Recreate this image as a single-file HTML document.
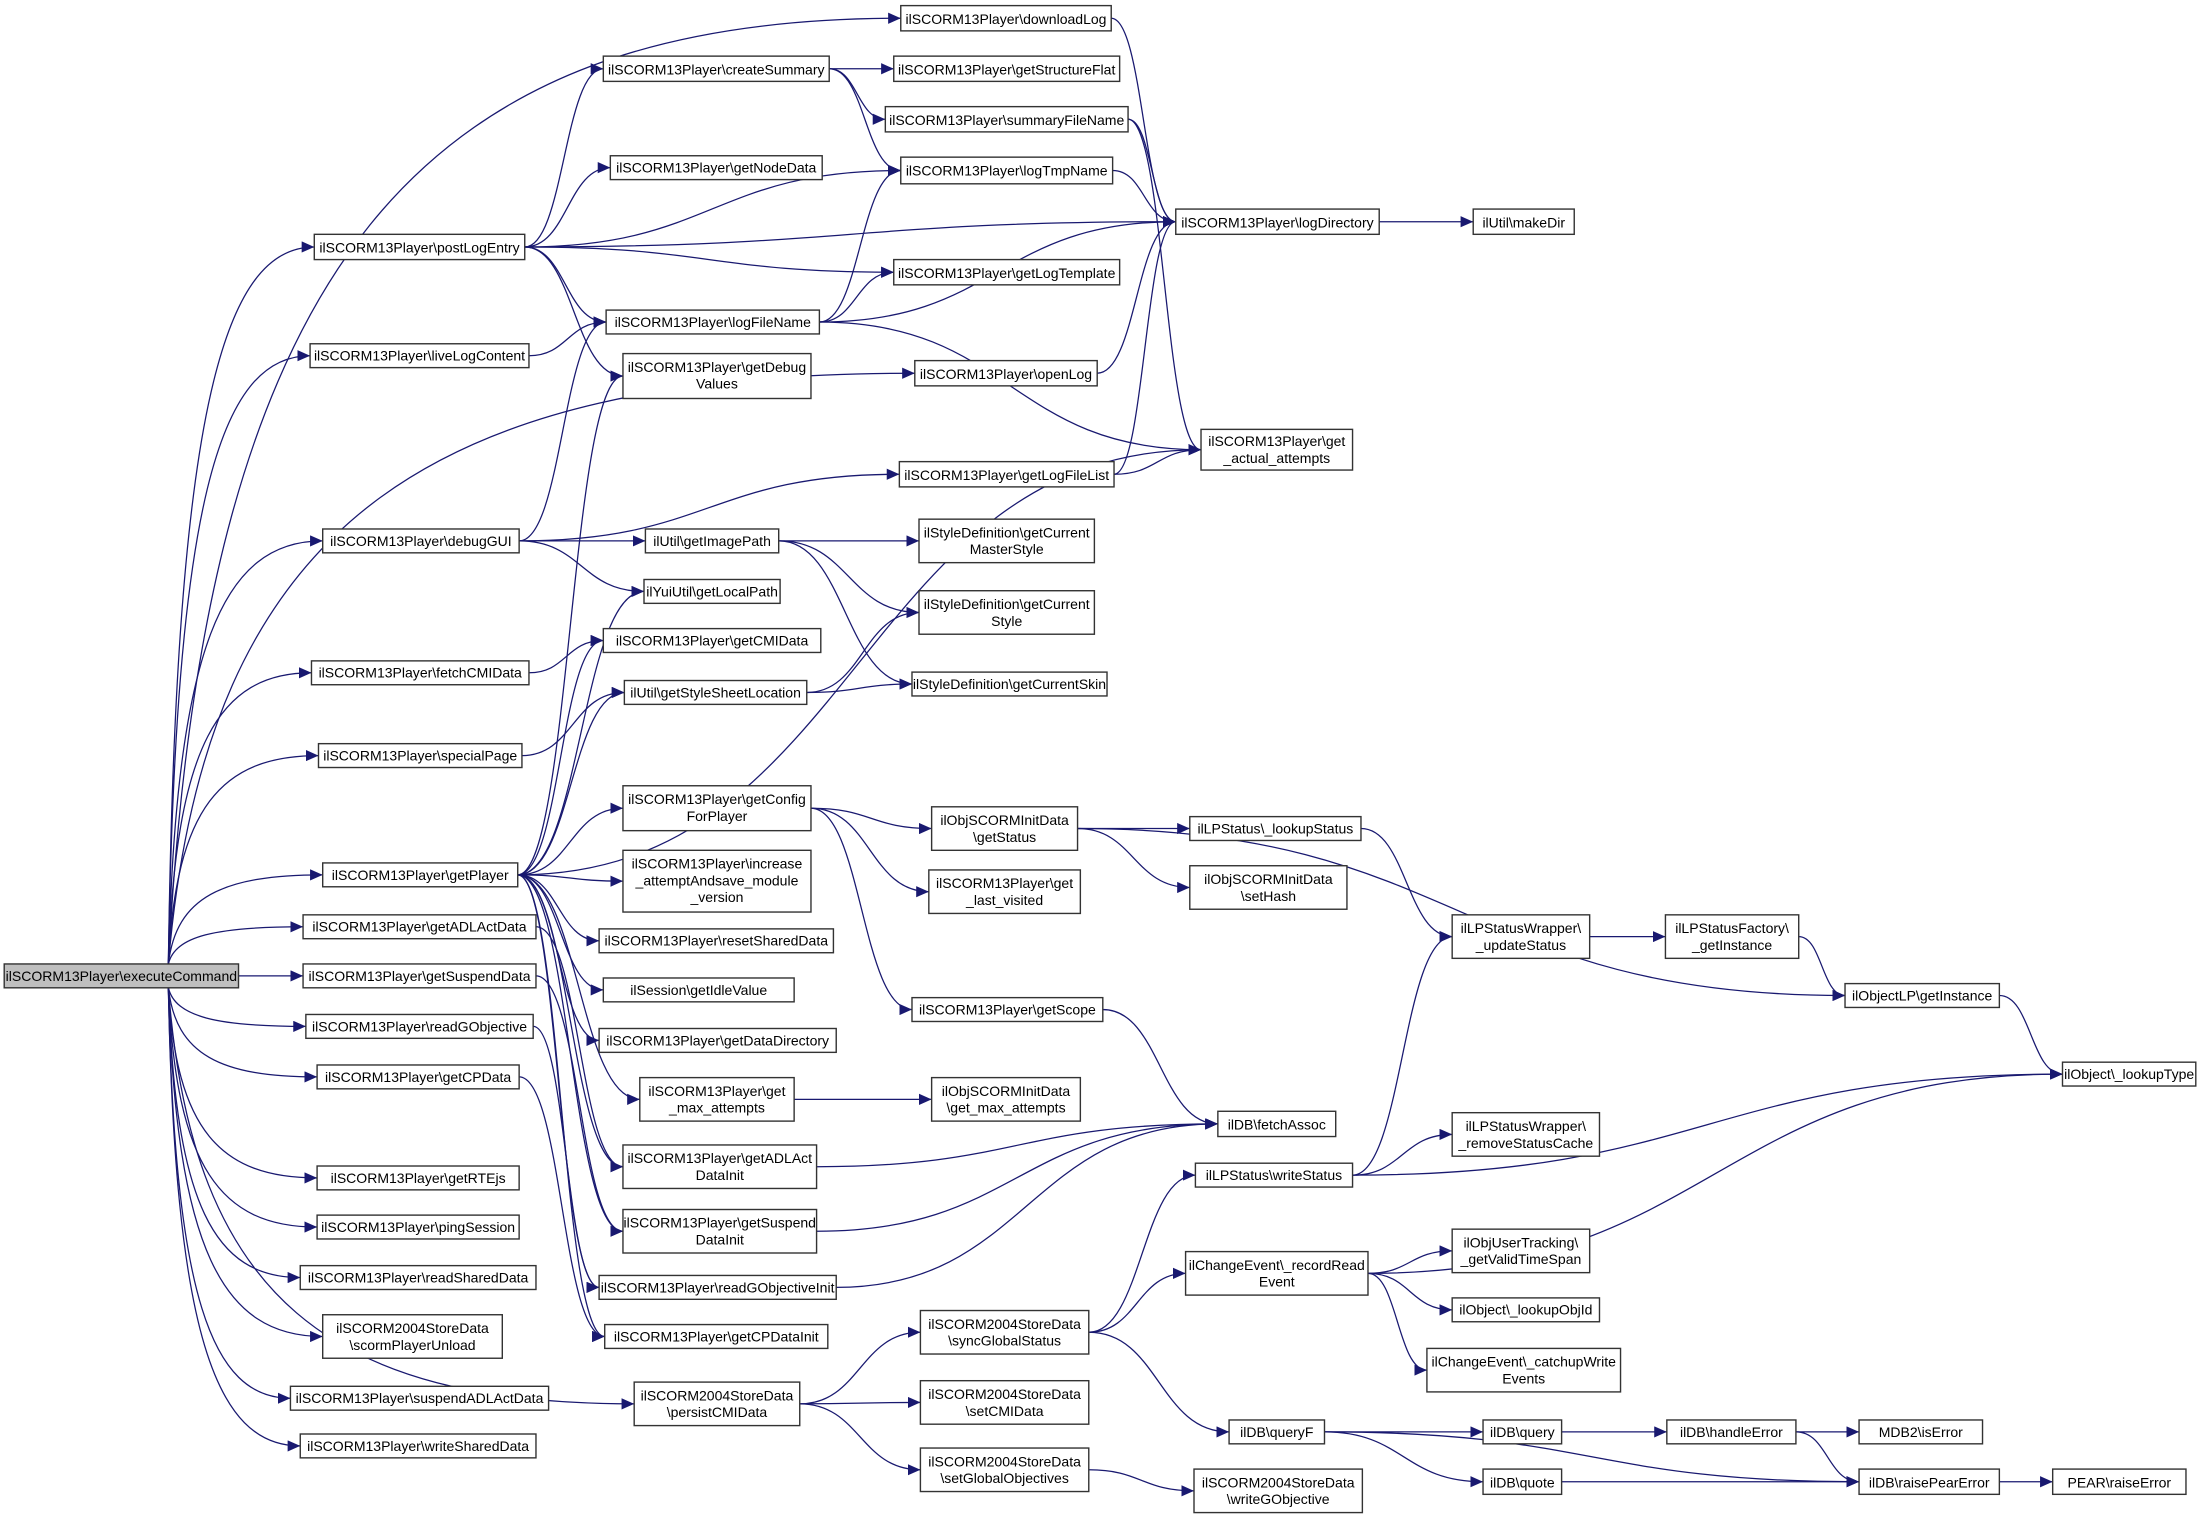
<!DOCTYPE html>
<html><head><meta charset="utf-8"><style>
html,body{margin:0;padding:0;background:#fff;}
svg{display:block;}
text{font-family:"Liberation Sans",Arial,sans-serif;font-size:10px;fill:#000;text-anchor:middle;}
rect{fill:#fff;stroke:#333;stroke-width:1;}
path.e{fill:none;stroke:#191970;stroke-width:0.9;}
</style></head><body>
<svg id="s" width="2200" height="1521" viewBox="0 0 1568 1084" preserveAspectRatio="none" xmlns="http://www.w3.org/2000/svg">
<defs><marker id="a" markerUnits="userSpaceOnUse" markerWidth="10" markerHeight="8" refX="9" refY="4" orient="auto"><path d="M0,0 L9,4 L0,8z" fill="#191970"/></marker></defs>
<g id="edges"></g>
<g id="root"><rect x="3" y="687" width="167" height="17" style="fill:#bfbfbf"/><text x="86.5" y="699">ilSCORM13Player\executeCommand</text></g>
<g id="postLogEntry"><rect x="224" y="167" width="150" height="18"/><text x="299" y="180">ilSCORM13Player\postLogEntry</text></g>
<g id="liveLogContent"><rect x="221" y="245" width="156" height="17"/><text x="299" y="257">ilSCORM13Player\liveLogContent</text></g>
<g id="debugGUI"><rect x="230" y="377" width="140" height="17"/><text x="300" y="389">ilSCORM13Player\debugGUI</text></g>
<g id="fetchCMIData"><rect x="222" y="471" width="155" height="17"/><text x="299.5" y="483">ilSCORM13Player\fetchCMIData</text></g>
<g id="specialPage"><rect x="227" y="530" width="145" height="17"/><text x="299.5" y="542">ilSCORM13Player\specialPage</text></g>
<g id="getPlayer"><rect x="230" y="615" width="139" height="17"/><text x="299.5" y="627">ilSCORM13Player\getPlayer</text></g>
<g id="getADLActData"><rect x="216" y="652" width="166" height="17"/><text x="299" y="664">ilSCORM13Player\getADLActData</text></g>
<g id="getSuspendData"><rect x="216" y="687" width="166" height="17"/><text x="299" y="699">ilSCORM13Player\getSuspendData</text></g>
<g id="readGObjective"><rect x="218" y="723" width="162" height="17"/><text x="299" y="735">ilSCORM13Player\readGObjective</text></g>
<g id="getCPData"><rect x="226" y="759" width="144" height="17"/><text x="298" y="771">ilSCORM13Player\getCPData</text></g>
<g id="getRTEjs"><rect x="226" y="831" width="144" height="17"/><text x="298" y="843">ilSCORM13Player\getRTEjs</text></g>
<g id="pingSession"><rect x="226" y="866" width="144" height="17"/><text x="298" y="878">ilSCORM13Player\pingSession</text></g>
<g id="readSharedData"><rect x="214" y="902" width="168" height="17"/><text x="298" y="914">ilSCORM13Player\readSharedData</text></g>
<g id="scormPlayerUnload"><rect x="230" y="937" width="128" height="31"/><text x="294" y="950">ilSCORM2004StoreData</text><text x="294" y="962">\scormPlayerUnload</text></g>
<g id="suspendADLActData"><rect x="207" y="988" width="184" height="17"/><text x="299" y="1000">ilSCORM13Player\suspendADLActData</text></g>
<g id="writeSharedData"><rect x="214" y="1022" width="168" height="17"/><text x="298" y="1034">ilSCORM13Player\writeSharedData</text></g>
<g id="createSummary"><rect x="430" y="40" width="161" height="18"/><text x="510.5" y="53">ilSCORM13Player\createSummary</text></g>
<g id="getNodeData"><rect x="435" y="111" width="151" height="17"/><text x="510.5" y="123">ilSCORM13Player\getNodeData</text></g>
<g id="logFileName"><rect x="432" y="221" width="152" height="17"/><text x="508" y="233">ilSCORM13Player\logFileName</text></g>
<g id="getDebugValues"><rect x="444" y="252" width="134" height="32"/><text x="511" y="265">ilSCORM13Player\getDebug</text><text x="511" y="277">Values</text></g>
<g id="getImagePath"><rect x="460" y="377" width="95" height="17"/><text x="507.5" y="389">ilUtil\getImagePath</text></g>
<g id="getLocalPath"><rect x="459" y="413" width="97" height="17"/><text x="507.5" y="425">ilYuiUtil\getLocalPath</text></g>
<g id="getCMIData"><rect x="430" y="448" width="155" height="17"/><text x="507.5" y="460">ilSCORM13Player\getCMIData</text></g>
<g id="getStyleSheetLocation"><rect x="445" y="485" width="130" height="17"/><text x="510" y="497">ilUtil\getStyleSheetLocation</text></g>
<g id="getConfigForPlayer"><rect x="444" y="560" width="134" height="32"/><text x="511" y="573">ilSCORM13Player\getConfig</text><text x="511" y="585">ForPlayer</text></g>
<g id="increase"><rect x="444" y="606" width="134" height="44"/><text x="511" y="619">ilSCORM13Player\increase</text><text x="511" y="631">_attemptAndsave_module</text><text x="511" y="643">_version</text></g>
<g id="resetSharedData"><rect x="427" y="662" width="167" height="17"/><text x="510.5" y="674">ilSCORM13Player\resetSharedData</text></g>
<g id="getIdleValue"><rect x="430" y="697" width="136" height="17"/><text x="498" y="709">ilSession\getIdleValue</text></g>
<g id="getDataDirectory"><rect x="427" y="733" width="169" height="17"/><text x="511.5" y="745">ilSCORM13Player\getDataDirectory</text></g>
<g id="getMaxAttempts"><rect x="456" y="768" width="110" height="31"/><text x="511" y="781">ilSCORM13Player\get</text><text x="511" y="793">_max_attempts</text></g>
<g id="getADLActDataInit"><rect x="444" y="816" width="138" height="31"/><text x="513" y="829">ilSCORM13Player\getADLAct</text><text x="513" y="841">DataInit</text></g>
<g id="getSuspendDataInit"><rect x="444" y="862" width="138" height="31"/><text x="513" y="875">ilSCORM13Player\getSuspend</text><text x="513" y="887">DataInit</text></g>
<g id="readGObjectiveInit"><rect x="427" y="909" width="169" height="17"/><text x="511.5" y="921">ilSCORM13Player\readGObjectiveInit</text></g>
<g id="getCPDataInit"><rect x="431" y="944" width="159" height="17"/><text x="510.5" y="956">ilSCORM13Player\getCPDataInit</text></g>
<g id="persistCMIData"><rect x="452" y="985" width="118" height="31"/><text x="511" y="998">ilSCORM2004StoreData</text><text x="511" y="1010">\persistCMIData</text></g>
<g id="downloadLog"><rect x="642" y="4" width="150" height="18"/><text x="717" y="17">ilSCORM13Player\downloadLog</text></g>
<g id="getStructureFlat"><rect x="637" y="40" width="161" height="18"/><text x="717.5" y="53">ilSCORM13Player\getStructureFlat</text></g>
<g id="summaryFileName"><rect x="631" y="76" width="173" height="18"/><text x="717.5" y="89">ilSCORM13Player\summaryFileName</text></g>
<g id="logTmpName"><rect x="642" y="112" width="151" height="19"/><text x="717.5" y="125">ilSCORM13Player\logTmpName</text></g>
<g id="logDirectory"><rect x="838" y="149" width="145" height="18"/><text x="910.5" y="162">ilSCORM13Player\logDirectory</text></g>
<g id="getLogTemplate"><rect x="637" y="185" width="161" height="18"/><text x="717.5" y="198">ilSCORM13Player\getLogTemplate</text></g>
<g id="openLog"><rect x="652" y="257" width="130" height="18"/><text x="717" y="270">ilSCORM13Player\openLog</text></g>
<g id="getActualAttempts"><rect x="856" y="306" width="108" height="29"/><text x="910" y="318">ilSCORM13Player\get</text><text x="910" y="330">_actual_attempts</text></g>
<g id="getLogFileList"><rect x="641" y="329" width="153" height="18"/><text x="717.5" y="342">ilSCORM13Player\getLogFileList</text></g>
<g id="makeDir"><rect x="1050" y="149" width="72" height="18"/><text x="1086" y="162">ilUtil\makeDir</text></g>
<g id="getCurrentMasterStyle"><rect x="655" y="370" width="125" height="31"/><text x="717.5" y="383">ilStyleDefinition\getCurrent</text><text x="717.5" y="395">MasterStyle</text></g>
<g id="getCurrentStyle"><rect x="655" y="421" width="125" height="31"/><text x="717.5" y="434">ilStyleDefinition\getCurrent</text><text x="717.5" y="446">Style</text></g>
<g id="getCurrentSkin"><rect x="650" y="479" width="139" height="17"/><text x="719.5" y="491">ilStyleDefinition\getCurrentSkin</text></g>
<g id="getStatus"><rect x="664" y="575" width="104" height="31"/><text x="716" y="588">ilObjSCORMInitData</text><text x="716" y="600">\getStatus</text></g>
<g id="getLastVisited"><rect x="662" y="620" width="108" height="31"/><text x="716" y="633">ilSCORM13Player\get</text><text x="716" y="645">_last_visited</text></g>
<g id="getScope"><rect x="650" y="711" width="136" height="17"/><text x="718" y="723">ilSCORM13Player\getScope</text></g>
<g id="getMaxAttemptsInit"><rect x="664" y="768" width="106" height="31"/><text x="717" y="781">ilObjSCORMInitData</text><text x="717" y="793">\get_max_attempts</text></g>
<g id="syncGlobalStatus"><rect x="656" y="934" width="120" height="31"/><text x="716" y="947">ilSCORM2004StoreData</text><text x="716" y="959">\syncGlobalStatus</text></g>
<g id="setCMIData"><rect x="656" y="984" width="120" height="31"/><text x="716" y="997">ilSCORM2004StoreData</text><text x="716" y="1009">\setCMIData</text></g>
<g id="setGlobalObjectives"><rect x="656" y="1032" width="120" height="31"/><text x="716" y="1045">ilSCORM2004StoreData</text><text x="716" y="1057">\setGlobalObjectives</text></g>
<g id="lookupStatus"><rect x="848" y="582" width="122" height="17"/><text x="909" y="594">ilLPStatus\_lookupStatus</text></g>
<g id="setHash"><rect x="848" y="617" width="112" height="31"/><text x="904" y="630">ilObjSCORMInitData</text><text x="904" y="642">\setHash</text></g>
<g id="fetchAssoc"><rect x="868" y="792" width="84" height="18"/><text x="910" y="805">ilDB\fetchAssoc</text></g>
<g id="writeStatus"><rect x="852" y="829" width="112" height="17"/><text x="908" y="841">ilLPStatus\writeStatus</text></g>
<g id="recordReadEvent"><rect x="845" y="892" width="130" height="31"/><text x="910" y="905">ilChangeEvent\_recordRead</text><text x="910" y="917">Event</text></g>
<g id="queryF"><rect x="876" y="1012" width="68" height="17"/><text x="910" y="1024">ilDB\queryF</text></g>
<g id="writeGObjective"><rect x="851" y="1047" width="120" height="31"/><text x="911" y="1060">ilSCORM2004StoreData</text><text x="911" y="1072">\writeGObjective</text></g>
<g id="updateStatus"><rect x="1035" y="652" width="98" height="31"/><text x="1084" y="665">ilLPStatusWrapper\</text><text x="1084" y="677">_updateStatus</text></g>
<g id="removeStatusCache"><rect x="1035" y="793" width="105" height="31"/><text x="1087.5" y="806">ilLPStatusWrapper\</text><text x="1087.5" y="818">_removeStatusCache</text></g>
<g id="getValidTimeSpan"><rect x="1035" y="876" width="98" height="31"/><text x="1084" y="889">ilObjUserTracking\</text><text x="1084" y="901">_getValidTimeSpan</text></g>
<g id="lookupObjId"><rect x="1035" y="925" width="105" height="17"/><text x="1087.5" y="937">ilObject\_lookupObjId</text></g>
<g id="catchupWriteEvents"><rect x="1017" y="961" width="138" height="31"/><text x="1086" y="974">ilChangeEvent\_catchupWrite</text><text x="1086" y="986">Events</text></g>
<g id="query"><rect x="1057" y="1012" width="56" height="17"/><text x="1085" y="1024">ilDB\query</text></g>
<g id="quote"><rect x="1057" y="1047" width="56" height="18"/><text x="1085" y="1060">ilDB\quote</text></g>
<g id="getInstanceFactory"><rect x="1187" y="652" width="95" height="31"/><text x="1234.5" y="665">ilLPStatusFactory\</text><text x="1234.5" y="677">_getInstance</text></g>
<g id="handleError"><rect x="1188" y="1012" width="92" height="17"/><text x="1234" y="1024">ilDB\handleError</text></g>
<g id="objectLP"><rect x="1315" y="701" width="110" height="17"/><text x="1370" y="713">ilObjectLP\getInstance</text></g>
<g id="mdb2"><rect x="1325" y="1012" width="88" height="17"/><text x="1369" y="1024">MDB2\isError</text></g>
<g id="raisePearError"><rect x="1325" y="1047" width="100" height="18"/><text x="1375" y="1060">ilDB\raisePearError</text></g>
<g id="lookupType"><rect x="1470" y="757" width="95" height="17"/><text x="1517.5" y="769">ilObject\_lookupType</text></g>
<g id="pearRaiseError"><rect x="1463" y="1047" width="95" height="18"/><text x="1510.5" y="1060">PEAR\raiseError</text></g>
</svg>
<script>
(function(){
var E=[
"root>downloadLog","root>postLogEntry","root>liveLogContent","root>openLog","root>debugGUI","root>fetchCMIData","root>specialPage","root>getPlayer","root>getADLActData","root>getSuspendData","root>readGObjective","root>getCPData","root>getRTEjs","root>pingSession","root>readSharedData","root>scormPlayerUnload","root>suspendADLActData","root>writeSharedData","root>persistCMIData",
"createSummary>getStructureFlat","createSummary>summaryFileName","createSummary>logTmpName",
"postLogEntry>createSummary","postLogEntry>logTmpName","postLogEntry>getNodeData","postLogEntry>logDirectory","postLogEntry>getLogTemplate","postLogEntry>logFileName","postLogEntry>getDebugValues",
"liveLogContent>logFileName",
"logFileName>logTmpName","logFileName>getLogTemplate","logFileName>logDirectory","logFileName>getActualAttempts",
"summaryFileName>logDirectory","summaryFileName>getActualAttempts","downloadLog>logDirectory","logTmpName>logDirectory","logDirectory>makeDir","openLog>logDirectory","getLogFileList>logDirectory","getLogFileList>getActualAttempts",
"debugGUI>logFileName","debugGUI>getLogFileList","debugGUI>getImagePath","debugGUI>getLocalPath",
"getImagePath>getCurrentMasterStyle","getImagePath>getCurrentStyle","getImagePath>getCurrentSkin",
"getStyleSheetLocation>getCurrentStyle","getStyleSheetLocation>getCurrentSkin",
"fetchCMIData>getCMIData","specialPage>getStyleSheetLocation",
"getPlayer>getDebugValues","getPlayer>getLocalPath","getPlayer>getCMIData","getPlayer>getStyleSheetLocation","getPlayer>getActualAttempts","getPlayer>getConfigForPlayer","getPlayer>increase","getPlayer>resetSharedData","getPlayer>getIdleValue","getPlayer>getDataDirectory","getPlayer>getMaxAttempts","getPlayer>getADLActDataInit","getPlayer>getSuspendDataInit","getPlayer>readGObjectiveInit","getPlayer>getCPDataInit",
"getConfigForPlayer>getStatus","getConfigForPlayer>getLastVisited","getConfigForPlayer>getScope",
"getStatus>lookupStatus","getStatus>setHash","getStatus>objectLP",
"lookupStatus>updateStatus","updateStatus>getInstanceFactory","getInstanceFactory>objectLP","objectLP>lookupType",
"getScope>fetchAssoc","getMaxAttempts>getMaxAttemptsInit","getADLActDataInit>fetchAssoc","getSuspendDataInit>fetchAssoc","readGObjectiveInit>fetchAssoc",
"getADLActData>getADLActDataInit","getSuspendData>getSuspendDataInit","readGObjective>readGObjectiveInit","getCPData>getCPDataInit",
"writeStatus>updateStatus","writeStatus>removeStatusCache","writeStatus>lookupType",
"syncGlobalStatus>writeStatus","syncGlobalStatus>recordReadEvent","syncGlobalStatus>queryF",
"recordReadEvent>lookupType","recordReadEvent>getValidTimeSpan","recordReadEvent>lookupObjId","recordReadEvent>catchupWriteEvents",
"persistCMIData>syncGlobalStatus","persistCMIData>setCMIData","persistCMIData>setGlobalObjectives","setGlobalObjectives>writeGObjective",
"queryF>query","queryF>quote","queryF>raisePearError","query>handleError","handleError>mdb2","handleError>raisePearError","quote>raisePearError","raisePearError>pearRaiseError"];
function B(id){var r=document.querySelector('#'+id+' rect');var x=+r.getAttribute('x'),y=+r.getAttribute('y'),w=+r.getAttribute('width'),h=+r.getAttribute('height');return{x:x,y:y,w:w,h:h,cy:y+h/2,r:x+w,b:y+h};}
var g=document.getElementById('edges'),out='';
E.forEach(function(e){var p=e.split('>'),s=B(p[0]),t=B(p[1]);var x0,y0,x1=t.x,y1=t.cy,d;
if(p[0]==='root'){
 if(t.b<s.y-3){x0=120;y0=s.y;var dx=x1-x0;d='M'+x0+','+y0+' C'+(x0+dx*0.05)+','+(y0+(y1-y0)*0.75)+' '+(x0+dx*0.35)+','+y1+' '+x1+','+y1;}
 else if(t.y>s.b+3){x0=120;y0=s.b;var dx=x1-x0;d='M'+x0+','+y0+' C'+(x0+dx*0.05)+','+(y0+(y1-y0)*0.75)+' '+(x0+dx*0.35)+','+y1+' '+x1+','+y1;}
 else{x0=s.r;y0=s.cy;d='M'+x0+','+y0+' L'+x1+','+y1;}
}else{x0=s.r;y0=s.cy;var dx=x1-x0;if(dx<20)dx=20;d='M'+x0+','+y0+' C'+(x0+dx*0.5)+','+y0+' '+(x1-dx*0.5)+','+y1+' '+x1+','+y1;}
out+='<path class="e" d="'+d+'" marker-end="url(#a)"/>';});
g.innerHTML=out;
})();
</script>
</body></html>
